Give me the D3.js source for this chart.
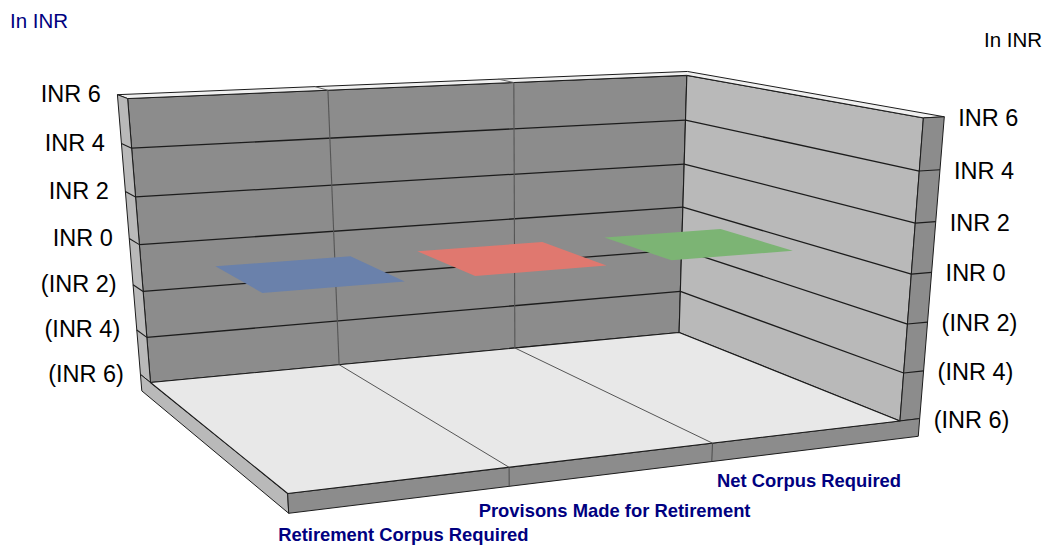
<!DOCTYPE html>
<html><head><meta charset="utf-8">
<script src="https://cdn.jsdelivr.net/npm/d3@7/dist/d3.min.js"></script>
<style>html,body{margin:0;padding:0;background:#fff}svg{display:block}text{font-family:"Liberation Sans",Arial,sans-serif}</style>
</head><body><svg id="c" width="1043" height="545"></svg>
<script>
// --- data ---
const categories = ["Retirement Corpus Required","Provisons Made for Retirement","Net Corpus Required"];
const seriesValues = [0,0,0];
const barColors = ["#6a81ab","#e0786f","#7cb474"];
const yTicks = [-6,-4,-2,0,2,4,6];
const yTickLabels = ["(INR 6)","(INR 4)","(INR 2)","INR 0","INR 2","INR 4","INR 6"];
const axisTitle = "In INR";

// --- camera calibration: world (x,y,z) <-> picture, solved to a perspective projection ---
const cameraAnchors = [
 [0,6,0,127,98],[3,6,0,686,75],[0,-6,0,150,382],[3,-6,0,680,332],
 [0,-6,1,288,494],[3,-6,1,899,420],[3,6,1,923,118],
 [1,-6,0,338,364],[2,-6,0,515,349],[1,-6,1,509,468],[2,-6,1,712,443],
 [1,6,0,328,90],[2,6,0,514,83],[0,0,0,141,245],[3,0,0,683,208],[3,0,1,913,274]
];
function solve(A,b){
  const n=b.length,M=A.map((r,i)=>[...r,b[i]]);
  for(let i=0;i<n;i++){
    let p=i;for(let k=i+1;k<n;k++)if(Math.abs(M[k][i])>Math.abs(M[p][i]))p=k;
    [M[i],M[p]]=[M[p],M[i]];
    for(let k=0;k<n;k++){if(k===i)continue;const f=M[k][i]/M[i][i];for(let j=i;j<=n;j++)M[k][j]-=f*M[i][j];}
  }
  return M.map((r,i)=>r[n]/r[i]);
}
const wx=d3.scaleLinear().domain([0,3]).range([0,1]),
      wy=d3.scaleLinear().domain([-6,6]).range([0,1]);
const rows=[],rhs=[];
cameraAnchors.forEach(([x,y,z,u,v])=>{
  const X=wx(x),Y=wy(y),Z=z,U=u/1000,V=v/1000;
  rows.push([X,Y,Z,1,0,0,0,0,-U*X,-U*Y,-U*Z]);rhs.push(U);
  rows.push([0,0,0,0,X,Y,Z,1,-V*X,-V*Y,-V*Z]);rhs.push(V);
});
const AtA=d3.range(11).map(i=>d3.range(11).map(j=>d3.sum(rows,r=>r[i]*r[j])));
const Atb=d3.range(11).map(i=>d3.sum(rows,(r,k)=>r[i]*rhs[k]));
const P=solve(AtA,Atb);
function proj(x,y,z){
  const X=wx(x),Y=wy(y),w=P[8]*X+P[9]*Y+P[10]*z+1;
  return [1000*(P[0]*X+P[1]*Y+P[2]*z+P[3])/w,1000*(P[4]*X+P[5]*Y+P[6]*z+P[7])/w];
}

// --- scales in world units ---
const xBand=d3.scaleBand().domain(categories).range([0,3]).paddingInner(0.34).paddingOuter(0.17);
const xGrid=d3.scalePoint().domain(categories.concat("end")).range([0,3]);
const T=0.11,S=-0.09,H=-6.75,Zb=[0.33,0.655];
const svg=d3.select("#c");
const line=d3.line();
function face(pts,fill,stroke,sw){
  svg.append("path").attr("d",line(pts.map(p=>proj(...p)))+"Z")
    .attr("fill",fill).attr("stroke",stroke||"none").attr("stroke-width",sw||0).attr("stroke-linejoin","round");
}
function seg(a,b,c,w){
  const p=proj(...a),q=proj(...b);
  svg.append("line").attr("x1",p[0]).attr("y1",p[1]).attr("x2",q[0]).attr("y2",q[1]).attr("stroke",c).attr("stroke-width",w);
}
const DK="#8c8c8c",LT="#b9b9b9",FL="#e8e8e8",TP="#f0f0f0",EDGE="#1c1c1c";

// walls
face([[0,-6,0],[3,-6,0],[3,6,0],[0,6,0]],DK,EDGE,1.1);
face([[3,-6,0],[3,-6,1],[3,6,1],[3,6,0]],LT,EDGE,1.1);
face([[0,6,S],[3+T,6,S],[3+T,6,1],[3,6,1],[3,6,0],[0,6,0]],TP,EDGE,1);
face([[0,-6,S],[0,-6,0],[0,6,0],[0,6,S]],LT,EDGE,1);
face([[3,-6,1],[3+T,-6,1],[3+T,6,1],[3,6,1]],DK,EDGE,1);
// floor slab
face([[0,-6,S],[0,-6,1],[0,H,1],[0,H,S]],LT,EDGE,1);
face([[0,-6,1],[3+T,-6,1],[3+T,H,1],[0,H,1]],DK,EDGE,1);
face([[0,-6,0],[3,-6,0],[3,-6,1],[0,-6,1]],FL,EDGE,1.1);

// gridlines
yTicks.slice(1,-1).forEach(t=>{
  seg([0,t,S],[0,t,0],EDGE,1.1);
  seg([0,t,0],[3,t,0],EDGE,1.3);
  seg([3,t,0],[3,t,1],EDGE,1.3);
  seg([3,t,1],[3+T,t,1],EDGE,1.1);
});
categories.slice(1).forEach(c=>{
  const x=xGrid(c);
  seg([x,6,S],[x,6,0],"#666",1);
  seg([x,6,0],[x,-6,0],"#555",1.1);
  seg([x,-6,0],[x,-6,1],"#444",0.9);
  seg([x,-6,1],[x,H,1],"#444",0.9);
});

// bars (zero-height boxes: only their top faces show)
const yv=d3.scaleLinear().domain([-6,6]).range([-6,6]);
categories.forEach((c,i)=>{
  const x0=xBand(c),x1=x0+xBand.bandwidth(),v=yv(seriesValues[i]);
  face([[x0,v,Zb[0]],[x1,v,Zb[0]],[x1,v,Zb[1]],[x0,v,Zb[1]]],barColors[i]);
});

// axis labels
const lbl=(x,y,t,a,fill,size,w)=>svg.append("text").attr("x",x).attr("y",y).attr("text-anchor",a||"start")
  .attr("fill",fill||"#000").attr("font-size",size).attr("font-weight",w||"normal").text(t);
yTicks.forEach((t,i)=>{
  const p=proj(0,t,S);lbl(p[0]-16.5,p[1]+7.5,yTickLabels[i],"end","#000",23.5);
  const q=proj(3+T,t,1);lbl(q[0]+14,q[1]+9,yTickLabels[i],"start","#000",23.5);
});
const catLabelDrop=[41,43,37.5];
categories.forEach((c,i)=>{
  const x=xBand(c)+xBand.bandwidth()/2,p=proj(x,H,1);
  lbl(p[0]+2,p[1]+catLabelDrop[i],c,"middle","#000080",18.4,"bold");
});
lbl(10,28,axisTitle,"start","#000080",20.5);
lbl(984,47,axisTitle,"start","#000",20.5);
</script></body></html>
